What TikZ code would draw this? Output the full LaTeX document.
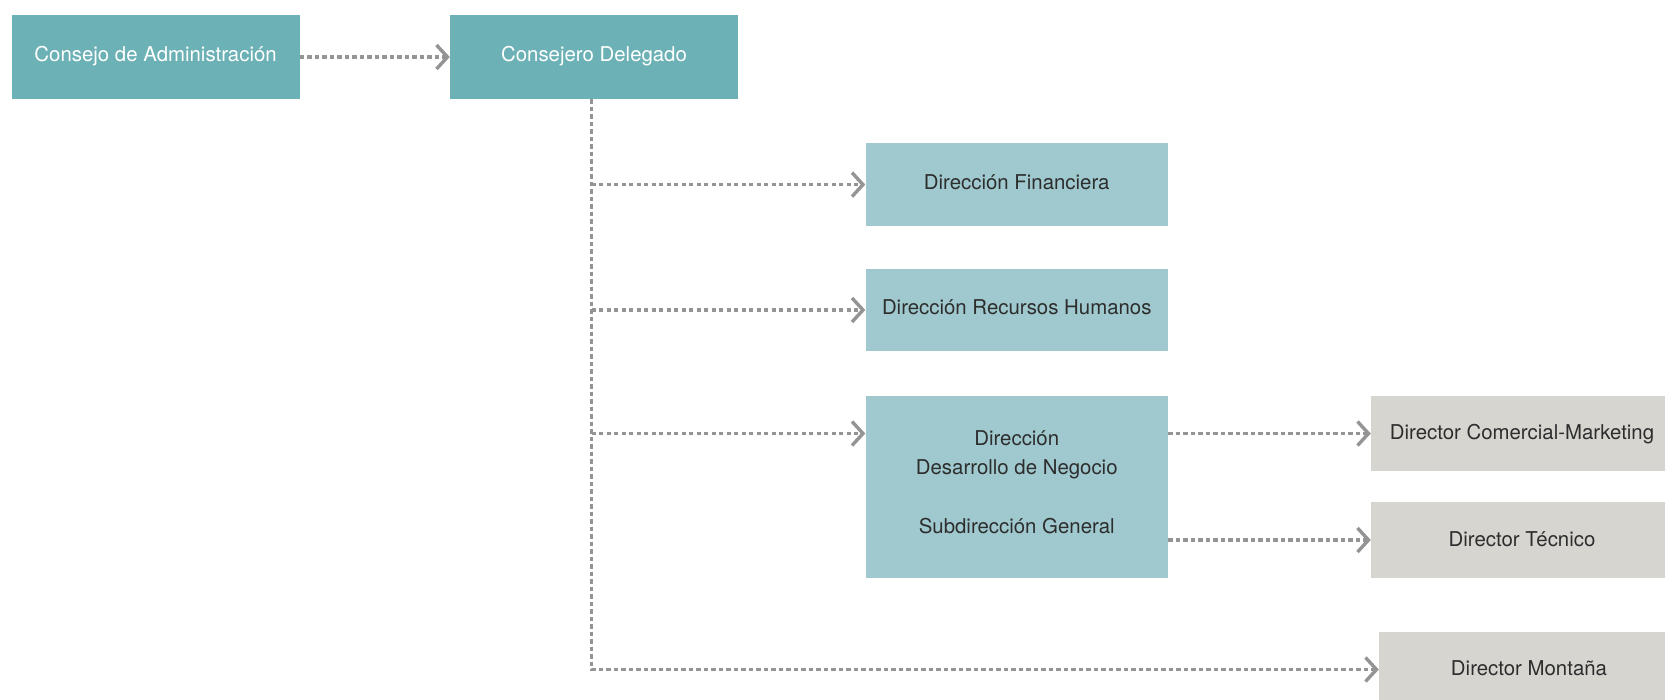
\documentclass[tikz,border=0pt]{standalone}
\usepackage{fontspec}
\setmainfont{TeX Gyre Heros}
\usetikzlibrary{arrows.meta}
\definecolor{darkteal}{RGB}{108,177,181}
\definecolor{lightteal}{RGB}{159,201,206}
\definecolor{boxgray}{RGB}{214,213,208}
\definecolor{linegray}{RGB}{148,148,148}
\definecolor{textdark}{RGB}{45,45,45}
\begin{document}
\begin{tikzpicture}[x=1pt,y=-1pt,
  box/.style={inner sep=0pt, align=center, font=\fontsize{20.4}{29.5}\selectfont},
  tealtext/.style={text height=15pt, text depth=5.5pt},
  greytext/.style={text height=15pt, text depth=2.5pt},
  topbox/.style={box, tealtext, fill=darkteal, text=white, minimum width=288pt, minimum height=84pt},
  midbox/.style={box, tealtext, fill=lightteal, text=textdark, minimum width=302.5pt},
  greybox/.style={box, greytext, fill=boxgray, text=textdark, minimum width=302pt},
  trunkline/.style={draw=linegray, line width=3.3pt, dash pattern=on 4.3pt off 3.2pt},
  conn/.style={trunkline, -{Straight Barb[length=11pt,width=24pt,line width=3.4pt]}}
]
\useasboundingbox (0,0) rectangle (1665,699);
\node[topbox] (ca) at (155.6,57) {Consejo de Administración};
\node[topbox] (cd) at (594,57) {Consejero Delegado};
\node[midbox, minimum height=83pt] (df) at (1016.75,184.6) {Dirección Financiera};
\node[midbox, minimum height=82.5pt] (rh) at (1016.75,310) {Dirección Recursos Humanos};
\node[midbox, minimum height=182pt] (dn) at (1016.75,487) {};
\node[box, text=textdark] (dnlabel) at (1016.75,482) {Dirección\\Desarrollo de Negocio\\[29.5pt]Subdirección General};
\node[greybox, minimum height=75pt] (dcm) at (1522,433.5) {Director Comercial-Marketing};
\node[greybox, minimum height=76pt] (dt) at (1522,540) {Director Técnico};
\node[greybox, minimum height=75pt, minimum width=300pt] (dm) at (1529,669.5) {Director Montaña};
\coordinate (trunktop) at ([xshift=-2.5pt]cd.south);
\coordinate (corner) at (trunktop |- dm.west);
\draw[conn] (ca.east) -- (cd.west);
\draw[conn] (trunktop) -- (corner) -- (dm.west);
\draw[conn] (trunktop |- df.west) -- (df.west);
\draw[conn] (trunktop |- rh.west) -- (rh.west);
\draw[conn] (trunktop |- dcm.west) -- (dn.west |- dcm.west);
\draw[conn] (dn.east |- dcm.west) -- (dcm.west);
\draw[conn] (dn.east |- dt.west) -- (dt.west);
\end{tikzpicture}
\end{document}
